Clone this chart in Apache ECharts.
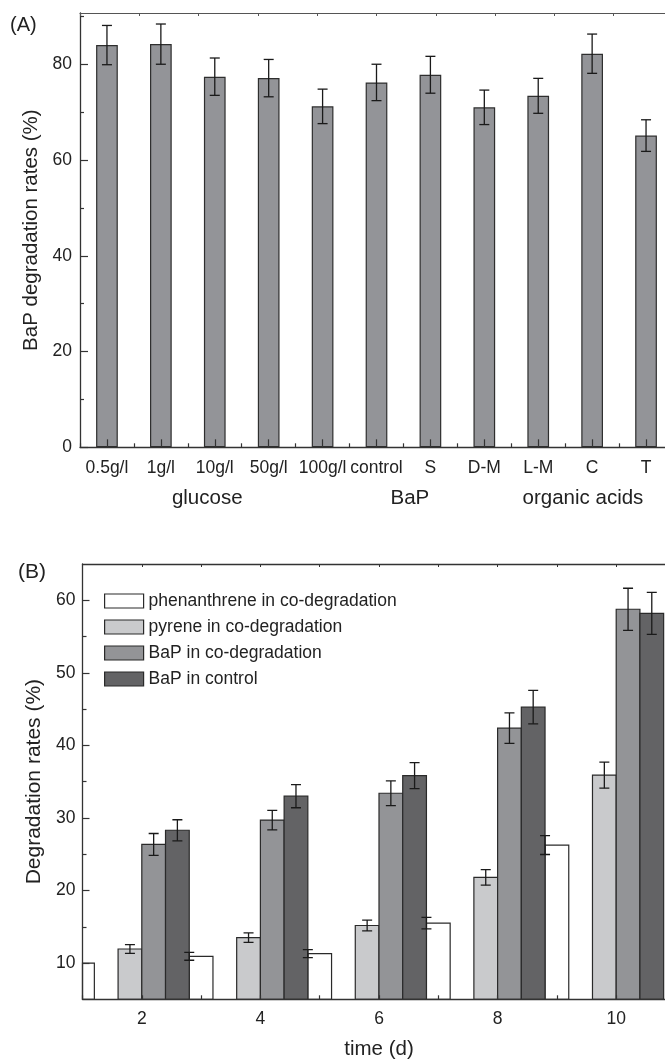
<!DOCTYPE html>
<html>
<head>
<meta charset="utf-8">
<script src="https://cdn.jsdelivr.net/npm/echarts@6/dist/echarts.min.js"></script>
<style>
html,body{margin:0;padding:0;background:#fff;overflow:hidden;}
#c{width:680px;height:1059px;}
</style>
</head>
<body>
<div id="c"></div>
<script>
// ---------- Panel A data ----------
const catsA = ['0.5g/l','1g/l','10g/l','50g/l','100g/l','control','S','D-M','L-M','C','T'];
const valsA = [84.0, 84.2, 77.4, 77.1, 71.2, 76.2, 77.8, 71.0, 73.4, 82.2, 65.1];
const errsA = [4.1, 4.2, 3.9, 3.9, 3.6, 3.8, 3.85, 3.6, 3.65, 4.1, 3.3];
const groupLabelsA = ['glucose', 'BaP', 'organic acids'];
const yTicksA = [0, 20, 40, 60, 80];
const yMinorA = [10, 30, 50, 70, 90];

// ---------- Panel B data ----------
const days = [2, 4, 6, 8, 10];
const phenPos = [1, 3, 5, 7, 9];
const seriesNamesB = ['phenanthrene in co-degradation', 'pyrene in co-degradation', 'BaP in co-degradation', 'BaP in control'];
const phen = [10.0, 10.93, 11.3, 15.5, 26.26];
const phenErr = [0, 0.55, 0.55, 0.8, 1.3];
const pyrene = [11.93, 13.5, 15.17, 21.8, 35.9];
const pyreneErr = [0.6, 0.65, 0.75, 1.07, 1.8];
const bapCo = [26.35, 29.7, 33.4, 42.37, 58.76];
const bapCoErr = [1.5, 1.35, 1.7, 2.1, 2.9];
const bapCtrl = [28.3, 33.0, 35.83, 45.27, 58.2];
const bapCtrlErr = [1.45, 1.6, 1.8, 2.3, 2.9];
const yTicksB = [10, 20, 30, 40, 50, 60];
const yMinorB = [15, 25, 35, 45, 55];

// ---------- styling / layout ----------
const FONT = 'Liberation Sans, Arial, Helvetica, sans-serif';
const INK = '#222';
const AXIS = '#333';
const colorsB = ['#ffffff', '#c9cacc', '#939497', '#636365'];
const offB = [0, -0.2, 0.2, 0.6];     // slot offsets (time units) in each group
const barUnitB = 0.4;                  // bar width in time units
const gridBW = 593, gridBMin = 1, gridBMax = 11;

function errRender(capHalf) {
  return function (params, api) {
    const x = api.value(0), v = api.value(1), e = api.value(2);
    if (!e) return;
    const t = api.coord([x, v + e]);
    const b = api.coord([x, v - e]);
    const st = {stroke: '#1a1a1a', lineWidth: 1.3};
    return {
      type: 'group',
      children: [
        {type: 'line', shape: {x1: t[0], y1: t[1], x2: b[0], y2: b[1]}, style: st},
        {type: 'line', shape: {x1: t[0] - capHalf, y1: t[1], x2: t[0] + capHalf, y2: t[1]}, style: st},
        {type: 'line', shape: {x1: b[0] - capHalf, y1: b[1], x2: b[0] + capHalf, y2: b[1]}, style: st}
      ]
    };
  };
}

// bars of panel B drawn through the axes' scales, clipped to the plot area
function barRenderB(params, api) {
  const x = api.value(0), v = api.value(1);
  const top = api.coord([x, v]);
  const w = api.size([barUnitB, 0])[0];
  const cs = params.coordSys;
  const rect = echarts.graphic.clipRectByRect(
    {x: top[0] - w / 2, y: top[1], width: w, height: cs.y + cs.height - top[1]},
    {x: cs.x, y: cs.y, width: cs.width, height: cs.height}
  );
  if (!rect) return;
  return {type: 'rect', shape: rect, style: api.style()};
}

const chart = echarts.init(document.getElementById('c'), null, {renderer: 'canvas'});

const axisLineStyle = {show: true, onZero: false, lineStyle: {color: AXIS, width: 1.3}};

// Panel B bar series
const bSeriesVals = [phen, pyrene, bapCo, bapCtrl];
const bSeriesErrs = [phenErr, pyreneErr, bapCoErr, bapCtrlErr];
const bSeries = [];
bSeriesVals.forEach((vals, k) => {
  const pos = k === 0 ? phenPos : days.map(d => d + offB[k]);
  bSeries.push({
    name: seriesNamesB[k], type: 'custom', xAxisIndex: 3, yAxisIndex: 2, z: 2,
    renderItem: barRenderB,
    itemStyle: {color: colorsB[k], borderColor: '#2a2a2a', borderWidth: 1.2},
    emphasis: {disabled: true},
    data: vals.map((v, i) => [pos[i], v])
  });
});
// error bars for panel B (phenanthrene error bars sit at the left edge of its bar)
const errDataB = [];
bSeriesVals.forEach((vals, k) => {
  const pos = k === 0 ? phenPos.map(p => p - barUnitB / 2) : days.map(d => d + offB[k]);
  vals.forEach((v, i) => errDataB.push([pos[i], v, bSeriesErrs[k][i]]));
});

const option = {
  animation: false,
  backgroundColor: '#fff',
  textStyle: {fontFamily: FONT, color: INK},
  grid: [
    {left: 80, top: 13, width: 593, height: 434.3, containLabel: false, outerBoundsMode: 'none'},
    {left: 82.5, top: 564, width: gridBW, height: 435.3, containLabel: false, outerBoundsMode: 'none'}
  ],
  legend: {
    data: seriesNamesB, orient: 'vertical', left: 104, top: 592, padding: 0,
    itemWidth: 39, itemHeight: 14, itemGap: 8, icon: 'rect',
    selectedMode: false,
    itemStyle: {borderColor: '#2a2a2a', borderWidth: 1.2},
    textStyle: {fontFamily: FONT, fontSize: 17.5, color: INK, lineHeight: 14}
  },
  xAxis: [
    { // A main category axis
      type: 'category', gridIndex: 0, position: 'bottom', data: catsA, boundaryGap: true, z: 5,
      axisLine: axisLineStyle,
      axisTick: {show: true, inside: true, alignWithLabel: true, length: 8, lineStyle: {color: AXIS, width: 1.2}},
      axisLabel: {fontFamily: FONT, fontSize: 17.5, color: INK, margin: 12, interval: 0}
    },
    { // A boundary ticks
      type: 'category', gridIndex: 0, position: 'bottom', data: catsA, boundaryGap: true, z: 5,
      axisLine: {show: false},
      axisTick: {show: true, inside: true, length: 4, lineStyle: {color: AXIS, width: 1.2}},
      axisLabel: {show: false}
    },
    { // A top frame
      type: 'value', gridIndex: 0, position: 'top', min: 0, max: 10, interval: 1, z: 5,
      axisLine: {show: true, onZero: false, lineStyle: {color: '#555', width: 1.2}},
      axisTick: {show: true, inside: true, length: 3, lineStyle: {color: '#555'}},
      axisLabel: {show: false}, splitLine: {show: false}
    },
    { // B main time axis
      type: 'value', gridIndex: 1, position: 'bottom', min: gridBMin, max: gridBMax, interval: 1, z: 5,
      name: 'time (d)', nameLocation: 'middle', nameGap: 40,
      nameTextStyle: {fontFamily: FONT, fontSize: 20.5, color: INK},
      axisLine: axisLineStyle,
      axisTick: {show: true, inside: true, length: 4, lineStyle: {color: AXIS, width: 1.2}},
      axisLabel: {fontFamily: FONT, fontSize: 17.5, color: INK, margin: 11,
        formatter: v => (days.indexOf(v) >= 0 ? String(v) : '')},
      splitLine: {show: false}
    },
    { // B top frame
      type: 'value', gridIndex: 1, position: 'top', min: gridBMin, max: gridBMax, interval: 1, z: 5,
      axisLine: axisLineStyle,
      axisTick: {show: true, inside: true, length: 3, lineStyle: {color: AXIS}},
      axisLabel: {show: false}, splitLine: {show: false}
    }
  ],
  yAxis: [
    { // A main
      type: 'value', gridIndex: 0, position: 'left', min: 0, max: 90.7, interval: 10, z: 5,
      name: 'BaP degradation rates (%)', nameLocation: 'middle', nameGap: 38,
      nameTextStyle: {fontFamily: FONT, fontSize: 20.5, color: INK},
      axisLine: axisLineStyle,
      axisTick: {show: true, inside: true, length: 8, customValues: yTicksA, lineStyle: {color: AXIS, width: 1.2}},
      axisLabel: {fontFamily: FONT, fontSize: 17.5, color: INK, margin: 8, customValues: yTicksA},
      splitLine: {show: false}
    },
    { // A minor ticks
      type: 'value', gridIndex: 0, position: 'left', min: 0, max: 90.7, interval: 10, z: 5,
      axisLine: {show: false},
      axisTick: {show: true, inside: true, length: 4, customValues: yMinorA, lineStyle: {color: AXIS, width: 1.2}},
      axisLabel: {show: false}, splitLine: {show: false}
    },
    { // B main
      type: 'value', gridIndex: 1, position: 'left', min: 5, max: 65, interval: 5, z: 5,
      name: 'Degradation rates (%)', nameLocation: 'middle', nameGap: 38,
      nameTextStyle: {fontFamily: FONT, fontSize: 21, color: INK},
      axisLine: axisLineStyle,
      axisTick: {show: true, inside: true, length: 7, customValues: yTicksB, lineStyle: {color: AXIS, width: 1.2}},
      axisLabel: {fontFamily: FONT, fontSize: 17.5, color: INK, margin: 7, customValues: yTicksB},
      splitLine: {show: false}
    },
    { // B minor ticks
      type: 'value', gridIndex: 1, position: 'left', min: 5, max: 65, interval: 5, z: 5,
      axisLine: {show: false},
      axisTick: {show: true, inside: true, length: 4, customValues: yMinorB, lineStyle: {color: AXIS, width: 1.2}},
      axisLabel: {show: false}, splitLine: {show: false}
    }
  ],
  series: [
    {
      name: 'A', type: 'bar', xAxisIndex: 0, yAxisIndex: 0, barWidth: 21.7, z: 2,
      itemStyle: {color: '#939498', borderColor: '#2e2e2e', borderWidth: 1.2},
      emphasis: {disabled: true},
      data: valsA
    },
    {
      type: 'custom', xAxisIndex: 0, yAxisIndex: 0, z: 6,
      renderItem: errRender(5),
      data: valsA.map((v, i) => [i, v, errsA[i]])
    },
    ...bSeries,
    {
      type: 'custom', xAxisIndex: 3, yAxisIndex: 2, z: 6, clip: true,
      renderItem: errRender(5),
      data: errDataB
    }
  ],
  graphic: [
    {type: 'text', left: 10, top: 15, style: {text: '(A)', font: '20px ' + FONT, fill: INK}},
    {type: 'text', left: 18, top: 562, style: {text: '(B)', font: '21px ' + FONT, fill: INK}}
  ]
};

chart.setOption(option);

// Group labels under the category axis of panel A, placed via the axis scale
const groupSpanA = [[0, 4], [5, 6], [7, 10]];
const groupShiftA = [-0.14, 0.12, 0.33];
const g = groupLabelsA.map((txt, j) => {
  const mid = (groupSpanA[j][0] + groupSpanA[j][1]) / 2 + groupShiftA[j];
  const p0 = chart.convertToPixel({xAxisIndex: 0}, Math.floor(mid));
  const p1 = chart.convertToPixel({xAxisIndex: 0}, Math.floor(mid) + 1);
  const px = p0 + (p1 - p0) * (mid - Math.floor(mid));
  return {type: 'text', x: px, y: 498,
    style: {text: txt, font: '20.5px ' + FONT, fill: INK, textAlign: 'center', textVerticalAlign: 'middle'}};
});
chart.setOption({graphic: option.graphic.concat(g)});
</script>
</body>
</html>
